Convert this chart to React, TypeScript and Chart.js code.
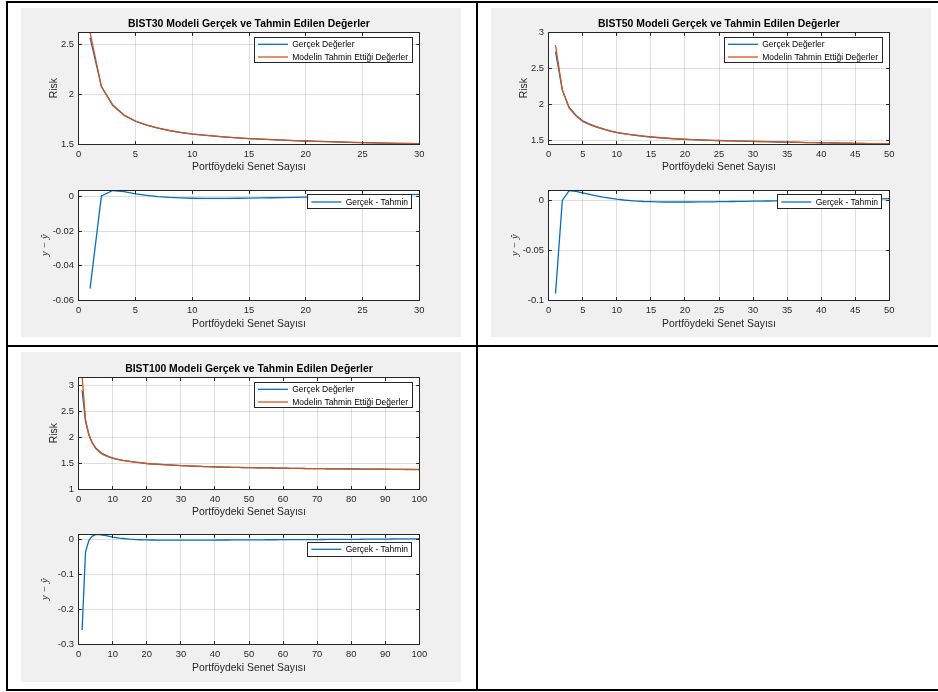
import React, { useEffect, useRef } from 'react';
import { Chart, registerables } from 'chart.js';

Chart.register(...registerables);

// ---------------- DATA ----------------
const bist30Count = Array.from({ length: 30 }, (_, i) => i + 1);
const bist50Count = Array.from({ length: 50 }, (_, i) => i + 1);
const bist100Count = Array.from({ length: 100 }, (_, i) => i + 1);

const bist30Actual = [
  2.566, 2.076, 1.890, 1.790, 1.730, 1.690, 1.660, 1.635, 1.615, 1.600,
  1.588, 1.578, 1.569, 1.561, 1.554, 1.548, 1.543, 1.538, 1.534, 1.530,
  1.526, 1.523, 1.520, 1.517, 1.514, 1.512, 1.509, 1.507, 1.505, 1.503,
];
const bist30Residual = [
  -0.0534, 0.0006, 0.0037, 0.0030, 0.0018, 0.0009, 0.0002, -0.0003, -0.0006, -0.0008,
  -0.0009, -0.0009, -0.0009, -0.0008, -0.0007, -0.0006, -0.0005, -0.0004, -0.0003, -0.0002,
  0.0000, 0.0001, 0.0003, 0.0004, 0.0006, 0.0007, 0.0009, 0.0011, 0.0013, 0.0015,
];

const bist50Actual = [
  2.730, 2.200, 1.958, 1.850, 1.770, 1.725, 1.690, 1.660, 1.632, 1.610,
  1.594, 1.580, 1.568, 1.557, 1.547, 1.539, 1.532, 1.525, 1.519, 1.514,
  1.510, 1.506, 1.503, 1.500, 1.497, 1.495, 1.492, 1.490, 1.488, 1.486,
  1.484, 1.482, 1.480, 1.478, 1.476, 1.474, 1.472, 1.470, 1.468, 1.467,
  1.465, 1.464, 1.462, 1.461, 1.459, 1.458, 1.456, 1.455, 1.453, 1.452,
];
const bist50Residual = [
  -0.0936, 0.0000, 0.0098, 0.0090, 0.0075, 0.0060, 0.0046, 0.0033, 0.0022, 0.0012,
  0.0004, -0.0002, -0.0007, -0.0011, -0.0013, -0.0015, -0.0016, -0.0016, -0.0016, -0.0016,
  -0.0016, -0.0015, -0.0015, -0.0014, -0.0013, -0.0012, -0.0011, -0.0010, -0.0009, -0.0008,
  -0.0007, -0.0006, -0.0005, -0.0004, -0.0003, -0.0002, -0.0001, 0.0000, 0.0001, 0.0002,
  0.0003, 0.0004, 0.0006, 0.0007, 0.0008, 0.0010, 0.0011, 0.0013, 0.0015, 0.0017,
];

const bist100Actual = [
  2.900, 2.300, 2.040, 1.890, 1.790, 1.730, 1.680, 1.650, 1.620, 1.597,
  1.580, 1.565, 1.552, 1.541, 1.531, 1.522, 1.514, 1.507, 1.500, 1.490,
  1.485, 1.480, 1.476, 1.472, 1.468, 1.464, 1.460, 1.456, 1.453, 1.450,
  1.447, 1.444, 1.441, 1.439, 1.436, 1.434, 1.431, 1.429, 1.427, 1.425,
  1.423, 1.422, 1.420, 1.419, 1.417, 1.416, 1.415, 1.413, 1.412, 1.411,
  1.410, 1.409, 1.408, 1.407, 1.406, 1.405, 1.404, 1.403, 1.401, 1.400,
  1.399, 1.398, 1.398, 1.397, 1.396, 1.395, 1.394, 1.394, 1.393, 1.392,
  1.391, 1.391, 1.390, 1.389, 1.389, 1.388, 1.388, 1.387, 1.386, 1.386,
  1.385, 1.385, 1.384, 1.384, 1.383, 1.382, 1.382, 1.381, 1.381, 1.380,
  1.380, 1.379, 1.379, 1.378, 1.378, 1.377, 1.377, 1.376, 1.376, 1.375,
];
const bist100Residual = [
  -0.2600, -0.0350, -0.0020, 0.0100, 0.0140, 0.0145, 0.0130, 0.0110, 0.0090, 0.0070,
  0.0055, 0.0040, 0.0030, 0.0020, 0.0010, 0.0004, -0.0001, -0.0005, -0.0008, -0.0010,
  -0.0012, -0.0013, -0.0014, -0.0015, -0.0016, -0.0016, -0.0017, -0.0017, -0.0017, -0.0017,
  -0.0017, -0.0017, -0.0016, -0.0016, -0.0016, -0.0015, -0.0015, -0.0015, -0.0014, -0.0014,
  -0.0013, -0.0013, -0.0012, -0.0012, -0.0011, -0.0011, -0.0010, -0.0010, -0.0009, -0.0009,
  -0.0008, -0.0008, -0.0007, -0.0007, -0.0006, -0.0006, -0.0005, -0.0005, -0.0004, -0.0004,
  -0.0003, -0.0003, -0.0002, -0.0002, -0.0001, -0.0001, 0.0000, 0.0000, 0.0001, 0.0001,
  0.0002, 0.0002, 0.0003, 0.0003, 0.0004, 0.0004, 0.0005, 0.0006, 0.0006, 0.0007,
  0.0008, 0.0008, 0.0009, 0.0010, 0.0010, 0.0011, 0.0012, 0.0013, 0.0013, 0.0014,
  0.0015, 0.0016, 0.0017, 0.0018, 0.0018, 0.0019, 0.0020, 0.0021, 0.0022, 0.0023,
];

// model estimate = actual - (actual - estimate)
const predicted = (a: number[], r: number[]) => a.map((v, i) => v - r[i]);

const bist30XTicks = [0, 5, 10, 15, 20, 25, 30];
const bist50XTicks = [0, 5, 10, 15, 20, 25, 30, 35, 40, 45, 50];
const bist100XTicks = [0, 10, 20, 30, 40, 50, 60, 70, 80, 90, 100];
const bist30RiskTicks = [1.5, 2, 2.5];
const bist50RiskTicks = [1.5, 2, 2.5, 3];
const bist100RiskTicks = [1, 1.5, 2, 2.5, 3];
const bist30ResidTicks = [-0.06, -0.04, -0.02, 0];
const bist50ResidTicks = [-0.1, -0.05, 0];
const bist100ResidTicks = [-0.3, -0.2, -0.1, 0];

const titles = [
  'BIST30 Modeli Gerçek ve Tahmin Edilen Değerler',
  'BIST50 Modeli Gerçek ve Tahmin Edilen Değerler',
  'BIST100 Modeli Gerçek ve Tahmin Edilen Değerler',
];
const xAxisLabel = 'Portföydeki Senet Sayısı';
const riskLabel = 'Risk';
const residLabel = 'y − ŷ';
const legendActual = 'Gerçek Değerler';
const legendPredicted = 'Modelin Tahmin Ettiği Değerler';
const legendResidual = 'Gerçek - Tahmin';

// ---------------- STYLE ----------------
const FONT = "'Liberation Sans', Arial, Helvetica, sans-serif";
const AX = '#262626';
const GRID = 'rgba(38,38,38,0.15)';
const BLUE = '#0072BD';
const ORANGE = '#D95319';

type Series = { x: number[]; y: number[]; color: string; label: string };
type Spec = {
  cx: number; cy: number; cw: number; ch: number;
  pl: number; pr: number; pt: number; pb: number;
  xMax: number; xTicks: number[];
  yMin: number; yMax: number; yTicks: number[];
  series: Series[];
  title?: string;
  yLabel: string; yLabelMath: boolean; yLabelDx: number;
  xLabelDy: number;
  legend: { right: number; top: number; h: number; rows: number[] };
};

const al = (p: number) => Math.round(p - 0.5) + 0.5;

function makePlugin(spec: Spec) {
  return {
    id: 'matlabAxes',
    beforeDraw(chart: any) {
      const { ctx, chartArea: a } = chart;
      ctx.save();
      ctx.fillStyle = '#ffffff';
      ctx.fillRect(a.left, a.top, a.right - a.left, a.bottom - a.top);
      ctx.restore();
    },
    afterDraw(chart: any) {
      const { ctx, chartArea: a, scales } = chart;
      const L = al(a.left), R = al(a.right), T = al(a.top), B = al(a.bottom);
      ctx.save();
      ctx.strokeStyle = AX;
      ctx.lineWidth = 1;
      ctx.strokeRect(L, T, R - L, B - T);
      const tl = 3.4;
      ctx.beginPath();
      for (const v of spec.xTicks) {
        const px = al(scales.x.getPixelForValue(v));
        ctx.moveTo(px, B); ctx.lineTo(px, B - tl);
        ctx.moveTo(px, T); ctx.lineTo(px, T + tl);
      }
      for (const v of spec.yTicks) {
        const py = al(scales.y.getPixelForValue(v));
        ctx.moveTo(L, py); ctx.lineTo(L + tl, py);
        ctx.moveTo(R, py); ctx.lineTo(R - tl, py);
      }
      ctx.stroke();

      const mid = (a.left + a.right) / 2;
      ctx.textAlign = 'center';
      ctx.textBaseline = 'middle';
      if (spec.title) {
        ctx.fillStyle = '#000000';
        ctx.font = `bold 10.4px ${FONT}`;
        ctx.fillText(spec.title, mid, a.top - 7.8);
      }
      ctx.fillStyle = AX;
      ctx.font = `10.4px ${FONT}`;
      ctx.fillText(xAxisLabel, mid, a.bottom + spec.xLabelDy);
      ctx.save();
      ctx.translate(a.left - spec.yLabelDx, (a.top + a.bottom) / 2);
      ctx.rotate(-Math.PI / 2);
      ctx.font = spec.yLabelMath ? `italic 10.5px 'Liberation Serif', serif` : `10.4px ${FONT}`;
      ctx.fillText(spec.yLabel, 0, 0);
      ctx.restore();

      // legend
      const lg = spec.legend;
      ctx.font = `8.5px ${FONT}`;
      const tw = Math.max(...spec.series.map((s) => ctx.measureText(s.label).width));
      const w = 3.7 + 30 + 4.3 + tw + 4;
      const right = lg.right - spec.cx;
      const top = lg.top - spec.cy;
      const x0 = right - w;
      ctx.fillStyle = '#ffffff';
      ctx.fillRect(x0, top, w, lg.h);
      ctx.strokeStyle = AX;
      ctx.lineWidth = 1;
      ctx.strokeRect(al(x0), al(top), Math.round(w), Math.round(lg.h));
      spec.series.forEach((s, i) => {
        const y = top + lg.rows[i];
        ctx.strokeStyle = s.color;
        ctx.lineWidth = 1.3;
        ctx.beginPath();
        ctx.moveTo(x0 + 3.7, y);
        ctx.lineTo(x0 + 33.7, y);
        ctx.stroke();
        ctx.fillStyle = '#000000';
        ctx.textAlign = 'left';
        ctx.fillText(s.label, x0 + 38, y + 0.5);
      });
      ctx.restore();
    },
  };
}

function Subplot({ spec }: { spec: Spec }) {
  const ref = useRef<HTMLCanvasElement | null>(null);
  useEffect(() => {
    if (!ref.current) return;
    const s = spec;
    const tickFont = { family: FONT, size: 9.4, lineHeight: 1.2 };
    const chart = new Chart(ref.current, {
      type: 'line',
      data: {
        datasets: s.series.map((ser, i) => ({
          label: ser.label,
          data: ser.x.map((x, j) => ({ x, y: ser.y[j] })),
          borderColor: ser.color,
          backgroundColor: ser.color,
          borderWidth: 1.3,
          pointRadius: 0,
          tension: 0,
          fill: false,
          clip: 0,
          order: s.series.length - i,
        })),
      },
      options: {
        animation: false,
        responsive: false,
        events: [],
        layout: { padding: { left: 0, top: s.pt - s.cy, right: s.cx + s.cw - s.pr, bottom: 0 } },
        plugins: { legend: { display: false }, tooltip: { enabled: false }, title: { display: false } },
        scales: {
          x: {
            type: 'linear',
            min: 0,
            max: s.xMax,
            afterBuildTicks: (sc: any) => { sc.ticks = s.xTicks.map((v) => ({ value: v })); },
            afterFit: (sc: any) => { sc.height = s.cy + s.ch - s.pb; },
            grid: { color: GRID, drawTicks: false, lineWidth: 1 },
            border: { display: false },
            ticks: {
              padding: 4.7, color: AX, font: tickFont, maxRotation: 0, minRotation: 0, autoSkip: false,
              callback: (v: any) => String(v),
            },
          },
          y: {
            type: 'linear',
            min: s.yMin,
            max: s.yMax,
            afterBuildTicks: (sc: any) => { sc.ticks = s.yTicks.map((v) => ({ value: v })); },
            afterFit: (sc: any) => { sc.width = s.pl - s.cx; },
            grid: { color: GRID, drawTicks: false, lineWidth: 1 },
            border: { display: false },
            ticks: {
              padding: 4.7, color: AX, font: tickFont, autoSkip: false,
              callback: (v: any) => String(v),
            },
          },
        },
      } as any,
      plugins: [makePlugin(s) as any],
    });
    return () => chart.destroy();
  }, [spec]);
  return (
    <canvas
      ref={ref}
      width={spec.cw}
      height={spec.ch}
      style={{ position: 'absolute', left: spec.cx, top: spec.cy, width: spec.cw, height: spec.ch }}
    />
  );
}

const topLegendRows = [6.6, 19.3];

function figureSpecs(
  fx: number, fy: number, xMax: number, xTicks: number[], count: number[],
  actual: number[], resid: number[], riskTicks: number[], riskMin: number, riskMax: number,
  residTicks: number[], residMin: number, residMax: number, title: string,
  topOff: number, botOff: number, botLegendTop: number,
): Spec[] {
  const pl = fx + 57.7, pr = fx + 398.3;
  const top: Spec = {
    cx: fx, cy: fy, cw: 440, ch: 172,
    pl, pr, pt: fy + 24.3 + topOff, pb: fy + 136 + topOff,
    xMax, xTicks, yMin: riskMin, yMax: riskMax, yTicks: riskTicks,
    series: [
      { x: count, y: actual, color: BLUE, label: legendActual },
      { x: count, y: predicted(actual, resid), color: ORANGE, label: legendPredicted },
    ],
    title, yLabel: riskLabel, yLabelMath: false, yLabelDx: 24.3, xLabelDy: 23.6,
    legend: { right: pr - 7.3, top: fy + 29.7 + topOff, h: 24.6, rows: topLegendRows },
  };
  const bot: Spec = {
    cx: fx, cy: fy + 172, cw: 440, ch: 158,
    pl, pr, pt: fy + 180.3 + botOff, pb: fy + 292 + botOff,
    xMax, xTicks, yMin: residMin, yMax: residMax, yTicks: residTicks,
    series: [{ x: count, y: resid, color: BLUE, label: legendResidual }],
    yLabel: residLabel, yLabelMath: true, yLabelDx: 33, xLabelDy: 24.2,
    legend: { right: pr - 7.3, top: fy + botLegendTop, h: 14.3, rows: [7.3] },
  };
  return [top, bot];
}

const specs: Spec[] = [
  ...figureSpecs(21, 8, 30, bist30XTicks, bist30Count, bist30Actual, bist30Residual,
    bist30RiskTicks, 1.5, 2.62, bist30ResidTicks, -0.06, 0.0038, titles[0], 0, 0, 186.7),
  ...figureSpecs(491, 8, 50, bist50XTicks, bist50Count, bist50Actual, bist50Residual,
    bist50RiskTicks, 1.45, 3, bist50ResidTicks, -0.1, 0.0101, titles[1], 0, 0, 186.7),
  ...figureSpecs(21, 352, 100, bist100XTicks, bist100Count, bist100Actual, bist100Residual,
    bist100RiskTicks, 1, 3.15, bist100ResidTicks, -0.3, 0.015, titles[2], 1, 0, 190),
];

const line = (l: number, t: number, w: number, h: number) => (
  <div style={{ position: 'absolute', left: l, top: t, width: w, height: h, background: '#000' }} />
);
const panel = (l: number, t: number, w: number, h: number) => (
  <div style={{ position: 'absolute', left: l, top: t, width: w, height: h, background: '#f0f0f0' }} />
);

export default function App() {
  return (
    <div style={{ position: 'absolute', left: 0, top: 0, width: 938, height: 692, background: '#fff', overflow: 'hidden' }}>
      {panel(21, 8, 440, 329)}
      {panel(491, 8, 440, 329)}
      {panel(21, 352, 440, 330)}
      {line(6, 1, 932, 2)}
      {line(6, 1, 2, 690)}
      {line(476, 1, 2, 690)}
      {line(6, 345, 932, 2)}
      {line(6, 689, 932, 2)}
      {specs.map((s, i) => <Subplot key={i} spec={s} />)}
    </div>
  );
}
